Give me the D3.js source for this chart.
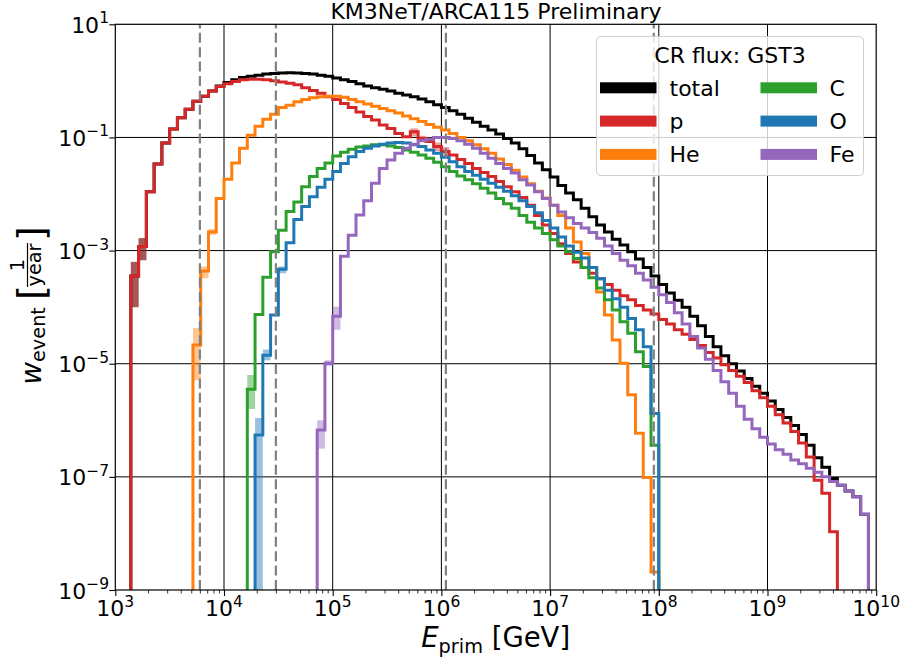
<!DOCTYPE html>
<html>
<head>
<meta charset="utf-8">
<script src="https://cdn.jsdelivr.net/npm/d3@7"></script>
<style>
  body { margin: 0; background: #fff; }
  svg { display: block; }
  text { font-family: "DejaVu Sans", sans-serif; fill: #000; }
</style>
</head>
<body>
<svg id="chart" width="903" height="663"></svg>
<script>
// Histogram binning: 14 logarithmic bins per decade between 10^3 and 10^10 GeV
const binsPerDecade = 14;
const binEdges = d3.range(0, 7 * binsPerDecade + 1).map(k => Math.pow(10, 3 + k / binsPerDecade));

// log10 of the event weight [1/year] in each bin (null = empty bin)
const totalLog = [null,null,-3.45,-2.93,-1.96,-1.47,-1.10,-0.85,-0.65,-0.50,
  -0.36,-0.27,-0.18,-0.09,-0.03,0.02,0.06,0.08,0.10,0.12,
  0.13,0.14,0.145,0.14,0.13,0.12,0.10,0.08,0.05,0.02,
  -0.01,-0.05,-0.09,-0.12,-0.15,-0.18,-0.22,-0.25,-0.28,-0.32,
  -0.37,-0.42,-0.47,-0.53,-0.59,-0.66,-0.73,-0.80,-0.87,-0.94,
  -1.02,-1.10,-1.20,-1.32,-1.45,-1.57,-1.70,-1.85,-1.98,-2.10,
  -2.25,-2.40,-2.55,-2.67,-2.80,-2.90,-3.02,-3.15,-3.30,-3.45,
  -3.60,-3.75,-3.88,-4.00,-4.16,-4.33,-4.52,-4.70,-4.86,-5.00,
  -5.13,-5.26,-5.40,-5.52,-5.66,-5.81,-5.95,-6.09,-6.25,-6.44,
  -6.66,-6.83,-7.03,-7.15,-7.25,-7.35,-7.66,null];

const pLog = [null,null,-3.45,-2.93,-1.96,-1.47,-1.10,-0.85,-0.65,-0.50,
  -0.36,-0.27,-0.18,-0.10,-0.05,-0.01,0.02,0.03,0.03,0.02,
  0.00,-0.02,-0.04,-0.07,-0.12,-0.17,-0.22,-0.28,-0.33,-0.40,
  -0.47,-0.55,-0.63,-0.69,-0.78,-0.84,-0.93,-0.99,-0.90,-1.02,
  -1.07,-1.16,-1.25,-1.31,-1.39,-1.46,-1.55,-1.62,-1.69,-1.78,
  -1.87,-1.96,-2.06,-2.20,-2.38,-2.55,-2.70,-2.88,-3.05,-3.20,
  -3.30,-3.40,-3.50,-3.60,-3.70,-3.80,-3.87,-3.97,-4.05,-4.12,
  -4.22,-4.30,-4.40,-4.48,-4.57,-4.68,-4.80,-4.90,-5.02,-5.12,
  -5.22,-5.33,-5.48,-5.60,-5.75,-5.90,-6.05,-6.20,-6.40,-6.65,
  -7.06,-7.29,-7.97,null,null,null,null,null];

const heLog = [null,null,null,null,null,null,null,null,null,null,
  -4.67,-3.36,-2.67,-2.08,-1.74,-1.45,-1.19,-0.96,-0.80,-0.68,
  -0.59,-0.47,-0.43,-0.37,-0.33,-0.30,-0.28,-0.27,-0.27,-0.29,
  -0.33,-0.37,-0.41,-0.45,-0.49,-0.53,-0.57,-0.62,-0.67,-0.72,
  -0.77,-0.82,-0.87,-0.93,-1.00,-1.06,-1.13,-1.20,-1.28,-1.38,
  -1.48,-1.58,-1.70,-1.82,-1.95,-2.07,-2.20,-2.38,-2.60,-2.85,
  -3.05,-3.30,-3.73,-4.14,-4.58,-4.99,-5.55,-6.23,-7.01,-8.68,
  null,null,null,null,null,null,null,null,null,null,
  null,null,null,null,null,null,null,null,null,null,
  null,null,null,null,null,null,null,null];

const cLog = [null,null,null,null,null,null,null,null,null,null,
  null,null,null,null,null,null,null,-5.45,-4.13,-3.47,
  -3.02,-2.64,-2.31,-2.14,-1.87,-1.69,-1.55,-1.45,-1.33,-1.26,
  -1.21,-1.17,-1.15,-1.13,-1.13,-1.15,-1.18,-1.22,-1.26,-1.31,
  -1.37,-1.44,-1.52,-1.60,-1.68,-1.75,-1.82,-1.90,-1.98,-2.08,
  -2.17,-2.25,-2.38,-2.50,-2.60,-2.70,-2.81,-2.92,-3.02,-3.14,
  -3.30,-3.48,-3.66,-3.87,-4.05,-4.26,-4.46,-4.79,-5.05,-6.44,
  null,null,null,null,null,null,null,null,null,null,
  null,null,null,null,null,null,null,null,null,null,
  null,null,null,null,null,null,null,null];

const oLog = [null,null,null,null,null,null,null,null,null,null,
  null,null,null,null,null,null,null,null,-6.26,-4.85,
  -4.14,-3.33,-2.86,-2.45,-2.22,-2.05,-1.88,-1.74,-1.60,-1.46,
  -1.34,-1.25,-1.19,-1.15,-1.12,-1.10,-1.09,-1.10,-1.13,-1.16,
  -1.22,-1.28,-1.35,-1.43,-1.52,-1.60,-1.67,-1.74,-1.81,-1.88,
  -1.95,-2.03,-2.12,-2.22,-2.33,-2.47,-2.60,-2.76,-2.92,-3.03,
  -3.13,-3.30,-3.50,-3.70,-3.85,-4.00,-4.20,-4.40,-4.70,-5.88,
  null,null,null,null,null,null,null,null,null,null,
  null,null,null,null,null,null,null,null,null,null,
  null,null,null,null,null,null,null,null];

const feLog = [null,null,null,null,null,null,null,null,null,null,
  null,null,null,null,null,null,null,null,null,null,
  null,null,null,null,null,null,-6.17,-4.99,-4.16,-3.10,
  -2.73,-2.37,-2.12,-1.81,-1.55,-1.40,-1.28,-1.19,-1.12,-1.06,
  -1.03,-1.00,-1.00,-1.02,-1.06,-1.12,-1.19,-1.28,-1.37,-1.46,
  -1.55,-1.63,-1.75,-1.84,-1.96,-2.08,-2.20,-2.32,-2.42,-2.52,
  -2.60,-2.68,-2.78,-2.92,-3.05,-3.17,-3.27,-3.40,-3.52,-3.65,
  -3.78,-3.92,-4.10,-4.30,-4.52,-4.72,-4.92,-5.12,-5.32,-5.52,
  -5.75,-5.98,-6.15,-6.30,-6.42,-6.52,-6.60,-6.70,-6.77,-6.85,
  -6.92,-7.00,-7.08,-7.15,-7.25,-7.35,-7.66,null];

// Statistical uncertainty bands: [bin, log10 low, log10 high]
const totalErr = [[2,-4.0,-3.2],[3,-3.17,-2.78]];
const pErr = [[2,-4.0,-3.2],[3,-3.17,-2.78],[38,-0.98,-0.84],[39,-1.08,-0.97],[41,-1.24,-1.09],[42,-1.34,-1.17]];
const heErr = [[10,-5.29,-4.37],[11,-3.49,-3.28],[12,-2.72,-2.62]];
const cErr = [[17,-5.8,-5.2]];
const oErr = [[18,-9.5,-5.96],[19,-4.94,-4.75],[21,-3.40,-3.28]];
const feErr = [[26,-6.5,-6.0],[27,-5.04,-4.94],[28,-4.4,-3.99]];

const seriesNames = ["total", "p", "He", "C", "O", "Fe"];
const seriesColors = ["#000000", "#d62728", "#ff7f0e", "#2ca02c", "#1f77b4", "#9467bd"];
const seriesLogs = [totalLog, pLog, heLog, cLog, oLog, feLog];
const seriesErrs = [totalErr, pErr, heErr, cErr, oErr, feErr];

// Energy thresholds marked with dashed lines [GeV]
const energyCuts = [6e3, 3e4, 1.1e6, 9e7];

const xTickExps = [3, 4, 5, 6, 7, 8, 9, 10];
const yTickExps = [1, -1, -3, -5, -7, -9];

const plot = { left: 115.3, right: 876.2, top: 24.3, bottom: 590 };
const x = d3.scaleLog().domain([1e3, 1e10]).range([plot.left, plot.right]);
const y = d3.scaleLog().domain([1e-9, 1e1]).range([plot.bottom, plot.top]);
const floorValue = Math.pow(10, -9.6);

const svg = d3.select("#chart");
svg.append("rect").attr("width", 903).attr("height", 663).attr("fill", "#fff");

svg.append("defs").append("clipPath").attr("id", "plotArea")
  .append("rect")
  .attr("x", plot.left).attr("y", plot.top)
  .attr("width", plot.right - plot.left).attr("height", plot.bottom - plot.top);

// Grid at the labelled decades
const grid = svg.append("g").attr("stroke", "#000").attr("stroke-width", 1);
grid.selectAll("line.gx").data(xTickExps.slice(1, -1)).join("line")
  .attr("class", "gx")
  .attr("x1", d => x(Math.pow(10, d))).attr("x2", d => x(Math.pow(10, d)))
  .attr("y1", plot.top).attr("y2", plot.bottom);
grid.selectAll("line.gy").data(yTickExps.slice(1, -1)).join("line")
  .attr("class", "gy")
  .attr("y1", d => y(Math.pow(10, d))).attr("y2", d => y(Math.pow(10, d)))
  .attr("x1", plot.left).attr("x2", plot.right);

// Step histograms with their uncertainty bands
const data = svg.append("g").attr("clip-path", "url(#plotArea)");
const stepLine = d3.line().x(d => x(d[0])).y(d => y(d[1])).curve(d3.curveStepAfter);

seriesLogs.forEach((vals, i) => {
  const color = seriesColors[i];
  data.append("g").selectAll("rect").data(seriesErrs[i]).join("rect")
    .attr("x", d => x(binEdges[d[0]]))
    .attr("width", d => x(binEdges[d[0] + 1]) - x(binEdges[d[0]]))
    .attr("y", d => y(Math.pow(10, d[2])))
    .attr("height", d => y(Math.pow(10, d[1])) - y(Math.pow(10, d[2])))
    .attr("fill", color).attr("fill-opacity", i === 0 ? 0.5 : 0.45);

  const filled = vals.map((v, k) => v === null ? null : k).filter(k => k !== null);
  const first = filled[0], last = filled[filled.length - 1];
  const pts = [[binEdges[first], floorValue]];
  for (let k = first; k <= last; k++) pts.push([binEdges[k], Math.pow(10, vals[k])]);
  pts.push([binEdges[last + 1], floorValue]);
  data.append("path").attr("d", stepLine(pts))
    .attr("fill", "none").attr("stroke", color)
    .attr("stroke-width", 3).attr("stroke-linejoin", "miter");
});

// Dashed energy thresholds
svg.append("g").selectAll("line").data(energyCuts).join("line")
  .attr("x1", d => x(d)).attr("x2", d => x(d))
  .attr("y1", plot.bottom).attr("y2", plot.top)
  .attr("stroke", "#808080").attr("stroke-width", 2.2)
  .attr("stroke-dasharray", "10,4.4");

// Axes
const minorX = [];
for (let e = 3; e < 10; e++) for (let m = 2; m <= 9; m++) minorX.push(m * Math.pow(10, e));

svg.append("g").attr("transform", `translate(0,${plot.bottom})`)
  .call(d3.axisBottom(x).tickValues(minorX).tickSize(3.5).tickFormat(""))
  .call(g => g.select(".domain").remove())
  .call(g => g.selectAll("line").attr("stroke-width", 0.8));
svg.append("g").attr("transform", `translate(0,${plot.bottom})`)
  .call(d3.axisBottom(x).tickValues(xTickExps.map(e => Math.pow(10, e))).tickSize(6).tickFormat(""))
  .call(g => g.select(".domain").remove())
  .call(g => g.selectAll("line").attr("stroke-width", 1.1));
svg.append("g").attr("transform", `translate(${plot.left},0)`)
  .call(d3.axisLeft(y).tickValues(yTickExps.map(e => Math.pow(10, e))).tickSize(6).tickFormat(""))
  .call(g => g.select(".domain").remove())
  .call(g => g.selectAll("line").attr("stroke-width", 1.1));

svg.append("rect")
  .attr("x", plot.left).attr("y", plot.top)
  .attr("width", plot.right - plot.left).attr("height", plot.bottom - plot.top)
  .attr("fill", "none").attr("stroke", "#000").attr("stroke-width", 1.2);

const sup = e => String(e).replace("-", "\u2212");

// Tick labels as powers of ten
const xLabels = svg.append("g").attr("font-size", 22);
xTickExps.forEach(e => {
  const t = xLabels.append("text").attr("x", x(Math.pow(10, e))).attr("y", 616).attr("text-anchor", "middle");
  t.append("tspan").text("10");
  t.append("tspan").attr("dy", -9.5).attr("font-size", 15.5).text(sup(e));
});
const yLabels = svg.append("g").attr("font-size", 22);
yTickExps.forEach(e => {
  const t = yLabels.append("text").attr("x", 109).attr("y", y(Math.pow(10, e)) + 8.5).attr("text-anchor", "end");
  t.append("tspan").text("10");
  t.append("tspan").attr("dy", -9.5).attr("font-size", 15.5).text(sup(e));
});

// Title
svg.append("text").attr("x", 496).attr("y", 19).attr("text-anchor", "middle")
  .attr("font-size", 22).text("KM3NeT/ARCA115 Preliminary");

// x label: E_prim [GeV]
const xl = svg.append("text").attr("x", 495.7).attr("y", 647).attr("text-anchor", "middle").attr("font-size", 27.5);
xl.append("tspan").attr("font-style", "italic").text("E");
xl.append("tspan").attr("font-size", 19.3).attr("dy", 5.5).text("prim");
xl.append("tspan").attr("dy", -5.5).text(" [GeV]");

// y label: w_event [1/year]
const yl = svg.append("g").attr("transform", "translate(41,307) rotate(-90)");
const yw = yl.append("text").attr("x", -77.5).attr("y", 0).attr("font-size", 27.5);
yw.append("tspan").attr("font-style", "italic").text("w");
yw.append("tspan").attr("font-size", 19.3).attr("dy", 4).text("event");
yl.append("text").attr("x", 7).attr("y", 3).attr("font-size", 38).text("[");
yl.append("text").attr("x", 66).attr("y", 3).attr("font-size", 38).text("]");
yl.append("text").attr("x", 42).attr("y", -17).attr("text-anchor", "middle").attr("font-size", 19.3).text("1");
yl.append("line").attr("x1", 20).attr("x2", 64).attr("y1", -13.5).attr("y2", -13.5)
  .attr("stroke", "#000").attr("stroke-width", 1.2);
yl.append("text").attr("x", 42).attr("y", 0).attr("text-anchor", "middle").attr("font-size", 19.3).text("year");

// Legend
const legend = svg.append("g");
legend.append("rect").attr("x", 596.5).attr("y", 36.5).attr("width", 267).attr("height", 139)
  .attr("rx", 4).attr("fill", "#fff").attr("fill-opacity", 0.8)
  .attr("stroke", "#d0d0d0").attr("stroke-width", 1);
legend.append("text").attr("x", 730).attr("y", 62.5).attr("text-anchor", "middle")
  .attr("font-size", 22).text("CR flux: GST3");
seriesNames.forEach((name, i) => {
  const col = Math.floor(i / 3), row = i % 3;
  const cy = 87.8 + row * 33.3;
  const hx = col === 0 ? 600 : 760.5;
  legend.append("rect").attr("x", hx).attr("y", cy - 5.5).attr("width", 56.5).attr("height", 11)
    .attr("fill", seriesColors[i]);
  legend.append("text").attr("x", col === 0 ? 669.5 : 829.5).attr("y", cy + 8)
    .attr("font-size", 22).text(name);
});
</script>
</body>
</html>
